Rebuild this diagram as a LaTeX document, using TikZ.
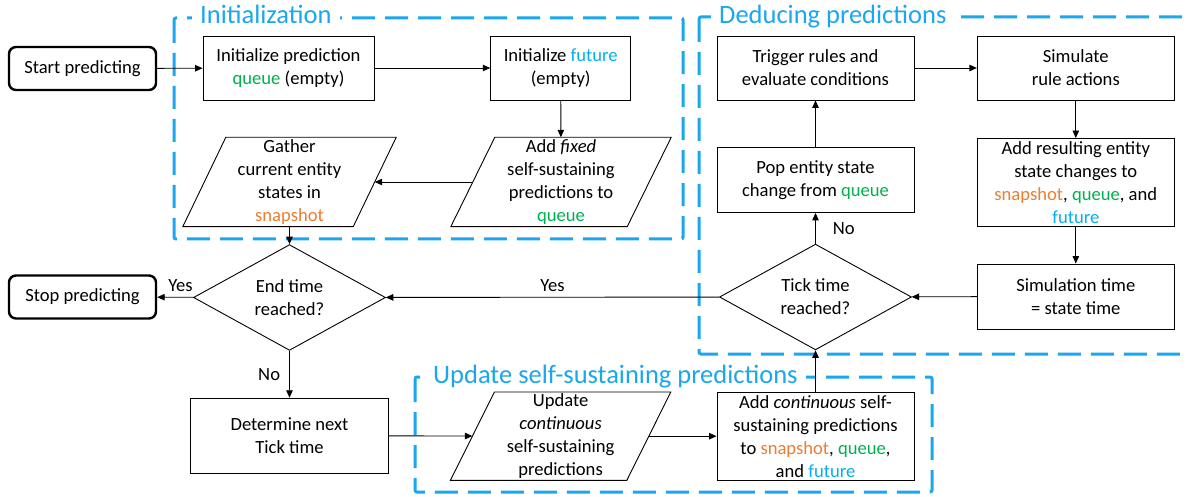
\documentclass[tikz,border=0pt]{standalone}
\usepackage{fontspec}
\setmainfont{Carlito}
\usetikzlibrary{shapes.geometric,arrows.meta}
\definecolor{qgreen}{HTML}{00B050}
\definecolor{sorange}{HTML}{ED7D31}
\definecolor{fblue}{HTML}{00B0F0}
\definecolor{grpblue}{HTML}{1AA7EE}
\newcommand{\qq}{\textcolor{qgreen}{queue}}
\newcommand{\sn}{\textcolor{sorange}{snapshot}}
\newcommand{\fu}{\textcolor{fblue}{future}}
\begin{document}
\begin{tikzpicture}[x=1pt,y=-1pt,
  font=\fontsize{18.6}{23}\selectfont,
  proc/.style={draw=black, line width=0.9pt, align=center, inner sep=0pt},
  term/.style={draw=black, line width=2.4pt, rounded corners=7pt, align=center, inner sep=0pt, minimum width=147pt, minimum height=43pt},
  dec/.style={diamond, draw=black, line width=0.9pt, align=center, inner sep=0pt, minimum width=192pt, minimum height=79pt},
  para/.style={align=center, inner sep=0pt},
  grp/.style={draw=grpblue, line width=3pt, dash pattern=on 23pt off 10pt, rounded corners=2pt},
  grplabel/.style={font=\fontsize{26.5}{30}\selectfont, text=grpblue, fill=white, inner xsep=8pt, inner ysep=3pt, anchor=base west},
  arr/.style={-{Triangle[length=7.5pt,width=6.5pt]}, line width=0.9pt},
  lab/.style={inner sep=0pt}
]
\clip (0,0) rectangle (1187,497);
\fill[white] (0,0) rectangle (1187,497);

% group boxes
\draw[grp] (174,18) rectangle (683,239);
\draw[grp] (699,17) rectangle (1200,354);
\draw[grp] (415,377) rectangle (932,492);
\node[grplabel] (gl1) at (192,24) {Initialization};
\node[grplabel] (gl2) at (711,23.5) {Deducing predictions};
\node[grplabel] (gl3) at (425,383.5) {Update self-sustaining predictions};

% nodes
\node[term] (start) at (82.5,68.5) {Start predicting};
\node[proc, minimum width=171pt, minimum height=64pt] (init) at (288.5,68) {Initialize prediction\\\qq{} (empty)};
\node[proc, minimum width=140pt, minimum height=64pt] (fut) at (560.7,68) {Initialize \fu\\(empty)};
\node[para, minimum width=176pt, minimum height=89pt] (fixed) at (561,182) {Add \textit{fixed}\\self-sustaining\\predictions to\\\qq};
\node[para, minimum width=170pt, minimum height=89pt] (gather) at (289.5,182) {Gather\\current entity\\states in\\\sn};
\node[proc, minimum width=197pt, minimum height=64pt] (trig) at (815.5,68) {Trigger rules and\\evaluate conditions};
\node[proc, minimum width=197pt, minimum height=64pt] (sim) at (1075.8,68) {Simulate\\rule actions};
\node[proc, minimum width=197pt, minimum height=65pt] (pop) at (815.5,180) {Pop entity state\\change from \qq};
\node[proc, minimum width=197pt, minimum height=88pt] (addres) at (1075.8,182.5) {Add resulting entity\\state changes to\\\sn, \qq, and\\\fu};
\node[proc, minimum width=197pt, minimum height=65pt] (simt) at (1075.8,296.5) {Simulation time\\= state time};
\node[dec] (tick) at (815.5,297) {Tick time\\reached?};
\node[dec] (endt) at (289.5,297.5) {End time\\reached?};
\node[term] (stop) at (82.5,297) {Stop predicting};
\node[proc, minimum width=198pt, minimum height=75pt] (det) at (289.5,435.7) {Determine next\\Tick time};
\node[para, minimum width=176pt, minimum height=88pt] (upd) at (560.6,436.2) {Update\\\textit{continuous}\\self-sustaining\\predictions};
\node[proc, minimum width=197pt, minimum height=88pt] (addc) at (815.5,436.2) {Add \textit{continuous} self-\\sustaining predictions\\to \sn, \qq,\\and \fu};

% parallelogram outlines
\draw[line width=0.9pt] ([xshift=22pt]fixed.north west) -- ([xshift=22pt]fixed.north east) -- ([xshift=-22pt]fixed.south east) -- ([xshift=-22pt]fixed.south west) -- cycle;
\draw[line width=0.9pt] ([xshift=21.5pt]gather.north west) -- ([xshift=21.5pt]gather.north east) -- ([xshift=-21.5pt]gather.south east) -- ([xshift=-21.5pt]gather.south west) -- cycle;
\draw[line width=0.9pt] ([xshift=22pt]upd.north west) -- ([xshift=22pt]upd.north east) -- ([xshift=-22pt]upd.south east) -- ([xshift=-22pt]upd.south west) -- cycle;

% connectors
\draw[arr] (start) -- (init);
\draw[arr] (init) -- (fut);
\draw[arr] (fut) -- (fixed);
\draw[arr] (fixed) -- (gather);
\draw[arr] (gather) -- (endt);
\draw[arr] (endt) -- node[lab, pos=0.36, above=5pt] (yes1) {Yes} (stop);
\draw[arr] (endt) -- node[lab, left=9pt] (no1) {No} (det);
\draw[arr] (det) -- (upd);
\draw[arr] (upd) -- (addc);
\draw[arr] (addc) -- (tick);
\draw[arr] (tick) -- node[lab, above=5pt] (yes2) {Yes} (endt);
\draw[arr] (tick) -- node[lab, right=17pt] (no2) {No} (pop);
\draw[arr] (pop) -- (trig);
\draw[arr] (trig) -- (sim);
\draw[arr] (sim) -- (addres);
\draw[arr] (addres) -- (simt);
\draw[arr] (simt) -- (tick);
\end{tikzpicture}
\end{document}
